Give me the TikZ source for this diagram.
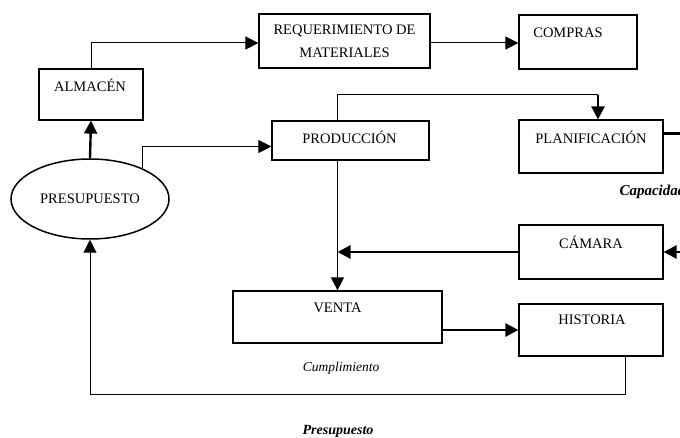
\documentclass[tikz,border=0pt]{standalone}
\usepackage{fontspec}
\setmainfont{Liberation Serif}
\usetikzlibrary{arrows.meta,shapes.geometric}

\begin{document}
\begin{tikzpicture}[x=1pt,y=-1pt,
  box/.style={draw, line width=1.2pt, inner sep=0pt, rectangle},
  boxtext/.style={font=\fontsize{14.5}{16}\selectfont, anchor=center},
  thinline/.style={line width=1pt},
  boldline/.style={line width=2.4pt},
  tip/.style={-{Triangle[length=13pt,width=13pt]}},
  note/.style={font=\fontsize{13.5}{14}\selectfont\itshape}]
\path[use as bounding box] (0,0) rectangle (680,438);
\clip (0,0) rectangle (680,438);

% blocks
\node[box, minimum width=171, minimum height=54, align=center,
      font=\fontsize{14.5}{23}\selectfont] (req) at (344.5,41)
      {REQUERIMIENTO DE\\MATERIALES};
\node[box, minimum width=118, minimum height=54,
      label={[boxtext, yshift=-18pt, xshift=-10pt]north:COMPRAS}] (comp) at (578,42) {};
\node[box, minimum width=104, minimum height=51,
      label={[boxtext, yshift=-17pt, xshift=-1pt]north:ALMACÉN}] (alm) at (91,94.5) {};
\node[box, minimum width=157, minimum height=39,
      label={[boxtext, yshift=-17pt, xshift=-1pt]north:PRODUCCIÓN}] (prod) at (350.5,140.5) {};
\node[box, minimum width=144, minimum height=53,
      label={[boxtext, yshift=-18pt]north:PLANIFICACIÓN}] (plan) at (591,146.5) {};
\node[box, minimum width=144, minimum height=54,
      label={[boxtext, yshift=-18pt]north:CÁMARA}] (cam) at (591,252) {};
\node[box, minimum width=209, minimum height=52,
      label={[boxtext, yshift=-17pt]north:VENTA}] (venta) at (337.5,317) {};
\node[box, minimum width=144, minimum height=52,
      label={[boxtext, yshift=-16pt, xshift=1pt]north:HISTORIA}] (hist) at (591,330) {};
\node[draw, ellipse, line width=1.5pt, minimum width=158, minimum height=80,
      inner sep=0pt, font=\fontsize{14.5}{16}\selectfont] (pres) at (90,199)
      {\raisebox{-2pt}{PRESUPUESTO}};

% free ends leaving the frame on the right
\coordinate (capout) at (700,133.5);
\coordinate (camin) at (700,252);
\coordinate (top) at (598,95);

% connectors
\draw[thinline, tip] (alm.north) |- ([yshift=-2pt]req.west);
\draw[thinline, tip] ([yshift=-2pt]req.east) -- ([yshift=-2pt]req.east -| comp.west);
\draw[boldline, tip] (pres.north) -- (alm.south);
\draw[thinline, tip] (pres.30) |- ([yshift=-6pt]prod.west);
\draw[thinline] ([xshift=-13pt]prod.north) |- (top);
\draw[boldline, tip] (top) -- (top |- plan.north);
\draw[boldline] ([yshift=13pt]plan.east) -- (capout);
\draw[boldline, tip] (camin) -- (cam.east);
\draw[thinline, tip] ([xshift=-13pt]prod.south) -- ([xshift=-13pt]prod.south |- venta.north);
\draw[boldline, tip] (cam.west) -- ([xshift=-13pt]prod.south |- cam.west);
\draw[boldline, tip] (venta.east |- hist.west) -- (hist.west);
\draw[thinline, tip] ([xshift=34pt]hist.south) -- ++(0,38) -| (pres.south);

% flow notes
\node[note, font=\fontsize{15}{16}\selectfont\bfseries\itshape, anchor=west] (capn) at (616,192) {Capacidad};
\node[note] (cump) at (341,368) {Cumplimiento};
\node[note, font=\fontsize{14}{15}\selectfont\bfseries\itshape] (presn) at (338,431) {Presupuesto};
\end{tikzpicture}
\end{document}
